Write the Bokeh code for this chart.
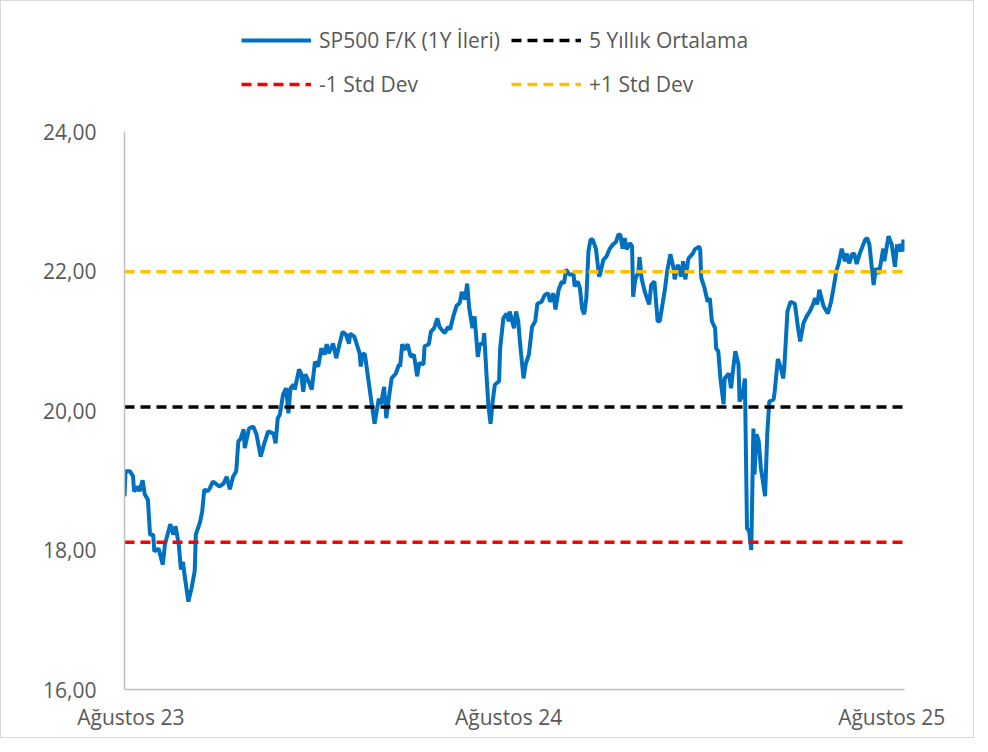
import pandas as pd
from bokeh.plotting import figure
from bokeh.layouts import column
from bokeh.models import Range1d, FixedTicker, Legend, LegendItem
from bokeh.embed import file_html
from bokeh.resources import INLINE

# ---- data ----
start_date = "2023-08-28"
days_from_start = [0,1,5,8,9,13,14,17,19,22,24,27,28,32,36,38,43,46,48,51,53,55,56,60,63,66,67,71,73,75,
    78,80,83,86,89,93,96,99,102,105,107,109,112,113,117,121,124,128,131,135,140,142,144,146,149,152,154,156,159,160,
    164,166,168,170,173,176,179,182,185,188,190,192,196,199,202,205,208,211,212,216,221,222,224,226,229,232,235,237,239,241,
    244,246,248,251,255,258,259,261,263,266,269,272,275,277,281,282,286,288,291,294,296,298,301,304,306,309,312,315,317,320,
    322,324,327,329,332,334,337,338,340,342,344,346,348,352,353,356,359,361,362,366,368,370,372,375,377,380,383,386,388,392,
    395,398,400,403,405,408,411,413,415,418,422,423,426,428,430,432,434,436,438,440,443,446,447,450,453,456,459,462,464,466,
    468,470,472,475,477,478,480,483,484,486,489,493,495,498,501,503,506,508,510,513,516,517,520,523,525,527,530,534,536,540,
    541,542,545,548,550,552,555,556,558,560,563,564,568,570,572,574,577,578,581,583,585,587,589,591,592,594,596,598,602,604,
    606,610,611,614,617,619,620,623,626,630,633,635,638,641,644,647,649,651,653,657,661,664,666,669,671,674,677,679,681,684,
    686,688,691,696,698,700,704,706,709,711,713,714,718,721,724,726,728,729,731,732,733]

pe_forward = [18.77,19.13,19.13,19.06,18.84,18.91,18.84,19.00,18.80,18.72,18.22,18.22,17.98,18.02,17.79,18.08,18.37,18.22,18.34,18.08,
    17.72,17.83,17.69,17.26,17.45,17.70,18.22,18.40,18.55,18.87,18.84,18.88,18.98,18.95,18.91,18.95,19.05,18.87,19.05,19.13,
    19.56,19.59,19.73,19.46,19.74,19.77,19.66,19.34,19.51,19.70,19.67,19.53,19.89,19.94,20.23,20.32,19.96,20.32,20.37,20.30,
    20.59,20.53,20.27,20.52,20.42,20.30,20.70,20.63,20.89,20.80,20.95,20.82,20.96,20.75,20.95,21.13,21.09,20.96,21.10,21.06,
    20.82,20.63,20.82,20.80,20.46,20.13,19.81,19.99,20.17,20.09,20.34,19.89,20.13,20.46,20.53,20.66,20.63,20.95,20.87,20.95,
    20.77,20.80,20.49,20.68,20.66,20.92,20.95,21.13,21.18,21.32,21.20,21.16,21.11,21.20,21.16,21.35,21.50,21.54,21.70,21.59,
    21.82,21.46,21.18,21.35,20.77,20.95,20.96,21.11,20.56,20.06,19.81,20.13,20.37,20.42,20.89,21.32,21.39,21.28,21.42,21.18,
    21.42,21.28,20.92,20.46,20.66,20.80,21.20,21.28,21.53,21.56,21.66,21.68,21.56,21.68,21.45,21.73,21.85,21.82,22.02,21.95,
    21.95,21.78,21.85,21.75,21.46,21.38,21.61,22.28,22.45,22.45,22.32,21.92,21.96,22.16,22.21,22.32,22.38,22.42,22.52,22.52,
    22.32,22.47,22.31,22.40,22.35,21.63,21.88,21.99,22.20,21.89,21.70,21.52,21.80,21.85,21.28,21.28,21.56,21.75,22.00,22.24,
    22.04,21.88,22.09,21.92,22.14,21.88,22.18,22.25,22.31,22.35,22.31,21.90,21.76,21.56,21.61,21.28,21.18,20.89,20.85,20.46,
    20.09,20.46,20.53,20.32,20.60,20.85,20.66,20.13,20.23,20.46,18.31,18.27,18.00,19.74,19.08,19.66,19.56,19.18,18.77,19.66,
    20.13,20.16,20.27,20.74,20.60,20.46,20.60,21.42,21.56,21.53,21.18,20.99,21.25,21.35,21.42,21.52,21.61,21.52,21.73,21.49,
    21.39,21.56,21.73,22.00,22.10,22.32,22.14,22.25,22.11,22.25,22.24,22.10,22.25,22.45,22.47,22.38,21.80,22.04,21.96,22.14,
    22.32,22.14,22.50,22.38,22.06,22.38,22.28,22.39,22.28,22.45,22.28]

avg_5y = 20.05
minus_1_std = 18.11
plus_1_std = 21.99

series_labels = ["SP500 F/K (1Y İleri)", "5 Yıllık Ortalama", "-1 Std Dev", "+1 Std Dev"]

y_ticks = [16, 18, 20, 22, 24]
y_tick_labels = ["16,00", "18,00", "20,00", "22,00", "24,00"]
x_tick_dates = ["2023-09-03", "2024-08-23", "2025-08-18"]
x_tick_labels = ["Ağustos 23", "Ağustos 24", "Ağustos 25"]

# ---- build ----
n = min(len(days_from_start), len(pe_forward))
start = pd.Timestamp(start_date)
dates = [start + pd.Timedelta(days=d) for d in days_from_start[:n]]
values = pe_forward[:n]
x_ends = [dates[0], dates[-1]]
series = [(dates, values),
          (x_ends, [avg_5y, avg_5y]),
          (x_ends, [minus_1_std, minus_1_std]),
          (x_ends, [plus_1_std, plus_1_std])]

FONT = "Open Sans"
TEXT_COLOR = "#595959"
AXIS_COLOR = "#BFBFBF"
COLORS = ["#0070C0", "black", "#FF0000", "#FFC000"]
WIDTHS = [4, 3.5, 3.5, 3.5]
DASHES = ["solid", "10 6", "10 6", "10 6"]

W = 972
LEG_H = 110
MAIN_H = 626

# main chart
p = figure(width=W, height=MAIN_H, x_axis_type="datetime",
           output_backend="svg", toolbar_location=None,
           x_range=Range1d(dates[0], dates[-1]), y_range=Range1d(16, 24),
           min_border_left=123, min_border_right=69,
           min_border_top=20, min_border_bottom=48)
p.grid.visible = False
p.outline_line_color = None
p.background_fill_color = "white"
p.border_fill_color = "white"

for (xs, ys), c, w, d in zip(series, COLORS, WIDTHS, DASHES):
    p.line(xs, ys, line_color=c, line_width=w, line_dash=d)

p.yaxis.ticker = FixedTicker(ticks=y_ticks)
p.yaxis.major_label_overrides = {t: l for t, l in zip(y_ticks, y_tick_labels)}
x_tick_ms = [int(pd.Timestamp(d).value // 10**6) for d in x_tick_dates]
p.xaxis.ticker = FixedTicker(ticks=x_tick_ms)
p.xaxis.major_label_overrides = {t: l for t, l in zip(x_tick_ms, x_tick_labels)}

for ax in (p.xaxis[0], p.yaxis[0]):
    ax.axis_line_color = AXIS_COLOR
    ax.axis_line_width = 1.5
    ax.major_tick_line_color = None
    ax.minor_tick_line_color = None
    ax.major_tick_in = 0
    ax.major_tick_out = 0
    ax.minor_tick_in = 0
    ax.minor_tick_out = 0
    ax.major_label_text_font = FONT
    ax.major_label_text_font_size = "21px"
    ax.major_label_text_color = TEXT_COLOR
p.yaxis.major_label_standoff = 28
p.xaxis.major_label_standoff = 13

# legend strip: same series, drawn outside its (empty) view so only the legend shows
lf = figure(width=W, height=LEG_H, output_backend="svg", toolbar_location=None,
            x_range=Range1d(0, 1), y_range=Range1d(0, 1),
            x_axis_location=None, y_axis_location=None,
            min_border_left=123, min_border_right=69, min_border_top=0, min_border_bottom=0)
lf.grid.visible = False
lf.outline_line_color = None
lf.border_fill_color = "white"
leg_r = [lf.line(xs, ys, line_color=c, line_width=w, line_dash=d)
         for (xs, ys), c, w, d in zip(series, COLORS, WIDTHS, DASHES)]

def make_legend(items, loc):
    lg = Legend(items=items, location=loc, orientation="vertical")
    lg.glyph_width = 70
    lg.glyph_height = 24
    lg.label_height = 24
    lg.label_standoff = 8
    lg.spacing = 16
    lg.padding = 0
    lg.margin = 0
    lg.border_line_color = None
    lg.background_fill_alpha = 0
    lg.label_text_font = FONT
    lg.label_text_font_size = "21px"
    lg.label_text_color = TEXT_COLOR
    return lg

lf.add_layout(make_legend([LegendItem(label=series_labels[0], renderers=[leg_r[0]]),
                           LegendItem(label=series_labels[2], renderers=[leg_r[2]])], (117, 13)))
lf.add_layout(make_legend([LegendItem(label=series_labels[1], renderers=[leg_r[1]]),
                           LegendItem(label=series_labels[3], renderers=[leg_r[3]])], (387, 13)))

layout = column(lf, p, spacing=0, styles={"border": "1px solid #D9D9D9"})

open("out.html", "w").write(file_html(layout, INLINE))
